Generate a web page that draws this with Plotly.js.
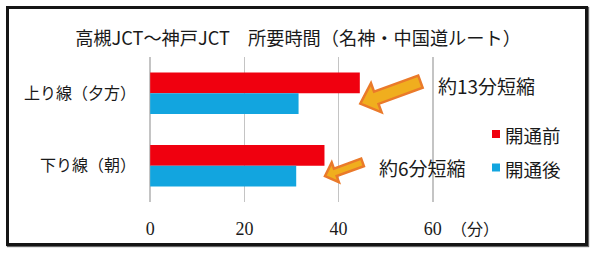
<!DOCTYPE html>
<html>
<head>
<meta charset="utf-8">
<script src="https://cdn.plot.ly/plotly-3.0.1.min.js"></script>
<style>
  html, body { margin: 0; padding: 0; background: #fff; }
  #wrap { position: relative; width: 600px; height: 254px; }
  #chart { position: absolute; left: 0; top: 0; width: 600px; height: 254px; }
  #frame {
    position: absolute; left: 6px; top: 6px; width: 582px; height: 240px;
    box-sizing: border-box; border: 3px solid #151515;
    box-shadow: 1px 1px 1px #666; pointer-events: none;
  }
</style>
</head>
<body>
<div id="wrap">
  <div id="chart"></div>
  <div id="frame"></div>
</div>
<script>
// Travel time Takatsuki JCT - Kobe JCT (minutes), before / after opening
const categories = ['上り線（夕方）', '下り線（朝）'];
const beforeMin = [44.5, 37];
const afterMin = [31.5, 31];
const seriesNames = ['開通前', '開通後'];
const seriesColors = ['#f0000f', '#12a5df'];
const xTickVals = [0, 20, 40, 60];
const xTickText = ['0', '20', '40', '60'];
const xUnit = '（分）';
const chartTitle = '高槻JCT～神戸JCT　所要時間（名神・中国道ルート）';

const W = 600, H = 254;
const M = { l: 149, r: 166, t: 57, b: 52 };
const PW = W - M.l - M.r, PH = H - M.t - M.b;
// a hair of padding so the grid lines at 0 and 60 are both drawn
const X_RANGE = [-0.25, 60.25];
const BARGAP = 0.43;

const JP = '"Noto Sans CJK JP", "Noto Sans", sans-serif';
const TXT = '#1a1a1a';

// pixel helpers for the decorative overlays (arrows, legend)
const xPx = v => M.l + (v - X_RANGE[0]) / (X_RANGE[1] - X_RANGE[0]) * PW;
const catPx = (i, off) => M.t + (i + 0.5 + (off || 0)) / categories.length * PH;
const toPaper = (px, py) => [(px - M.l) / PW, 1 - (py - M.t) / PH];

// block arrow pointing at (tx, ty), body extending up-right
function blockArrow(tx, ty, len, shaftW, headW, headL, angDeg) {
  const a = angDeg * Math.PI / 180;
  const u = [Math.cos(a), Math.sin(a)];
  const n = [-u[1], u[0]];
  const p = (s, w) => toPaper(tx + u[0] * s + n[0] * w, ty + u[1] * s + n[1] * w);
  const pts = [
    p(0, 0),
    p(headL, headW / 2), p(headL, shaftW / 2),
    p(len, shaftW / 2), p(len, -shaftW / 2),
    p(headL, -shaftW / 2), p(headL, -headW / 2)
  ];
  const d = 'M' + pts.map(q => q[0].toFixed(4) + ',' + q[1].toFixed(4)).join(' L') + ' Z';
  return {
    type: 'path', xref: 'paper', yref: 'paper', path: d,
    fillcolor: '#f0ae1e', line: { color: '#ea7a2a', width: 2.5 }, layer: 'above'
  };
}

const halfBar = (1 - BARGAP) / 4; // centre offset of each bar inside its group (category units)

const traces = [beforeMin, afterMin].map((vals, k) => ({
  type: 'bar', orientation: 'h',
  name: seriesNames[k], x: vals, y: categories,
  marker: { color: seriesColors[k], line: { width: 0 } },
  hoverinfo: 'x+name'
}));

const shapes = [];
const annotations = [];

// arrows + savings labels
const arrowSpec = [
  { len: 64, shaft: 13, head: 31, headL: 17, lx: 76, ly: -18 },
  { len: 40, shaft: 8, head: 21, headL: 11, lx: 52, ly: -9 }
];
categories.forEach((c, i) => {
  const s = arrowSpec[i];
  const tx = xPx(beforeMin[i]) + 0.5;
  const ty = catPx(i, halfBar);
  shapes.push(blockArrow(tx, ty, s.len, s.shaft, s.head, s.headL, -20));
  const diff = Math.round(beforeMin[i] - afterMin[i]);
  const lp = toPaper(tx + s.lx, ty + s.ly);
  annotations.push({
    xref: 'paper', yref: 'paper', x: lp[0], y: lp[1],
    xanchor: 'left', yanchor: 'middle', showarrow: false,
    text: '約' + diff + '分短縮', font: { family: JP, size: 19, color: TXT }
  });
});

// legend: small squares with names
const legendY = [135, 168.5];
seriesNames.forEach((nm, k) => {
  const a = toPaper(492, legendY[k] - 5), b = toPaper(500, legendY[k] + 3);
  shapes.push({
    type: 'rect', xref: 'paper', yref: 'paper',
    x0: a[0], x1: b[0], y0: b[1], y1: a[1],
    fillcolor: seriesColors[k], line: { width: 0 }
  });
  const t = toPaper(503, legendY[k]);
  annotations.push({
    xref: 'paper', yref: 'paper', x: t[0], y: t[1],
    xanchor: 'left', yanchor: 'middle', showarrow: false,
    text: nm, font: { family: JP, size: 18.5, color: TXT }
  });
});

// unit next to the last tick
const up = toPaper(449, 228);
annotations.push({
  xref: 'paper', yref: 'paper', x: up[0], y: up[1],
  xanchor: 'left', yanchor: 'middle', showarrow: false,
  text: xUnit, font: { family: JP, size: 16, color: TXT }
});

const layout = {
  width: W, height: H,
  margin: M,
  paper_bgcolor: '#fff', plot_bgcolor: 'rgba(0,0,0,0)',
  showlegend: false,
  barmode: 'group', bargap: BARGAP, bargroupgap: 0,
  title: {
    text: chartTitle, xref: 'container', yref: 'container',
    x: 298 / W, y: 1 - 39 / H, xanchor: 'center', yanchor: 'middle',
    font: { family: JP, size: 18.2, color: TXT }
  },
  xaxis: {
    range: X_RANGE, tickvals: xTickVals, ticktext: xTickText,
    showgrid: true, gridcolor: '#c4c4c4', gridwidth: 1.5,
    zeroline: true, zerolinecolor: '#c4c4c4', zerolinewidth: 1.5,
    showline: false, ticks: '', ticklabelstandoff: 14,
    tickfont: { family: '"Liberation Serif", serif', size: 18, color: TXT },
    fixedrange: true
  },
  yaxis: {
    type: 'category', range: [categories.length - 0.5, -0.5],
    showgrid: false, zeroline: false, showline: false, ticks: '',
    ticklabelstandoff: 12,
    tickfont: { family: JP, size: 16, color: TXT },
    fixedrange: true
  },
  shapes: shapes,
  annotations: annotations
};

Plotly.newPlot('chart', traces, layout, { displayModeBar: false, staticPlot: true });
</script>
</body>
</html>
